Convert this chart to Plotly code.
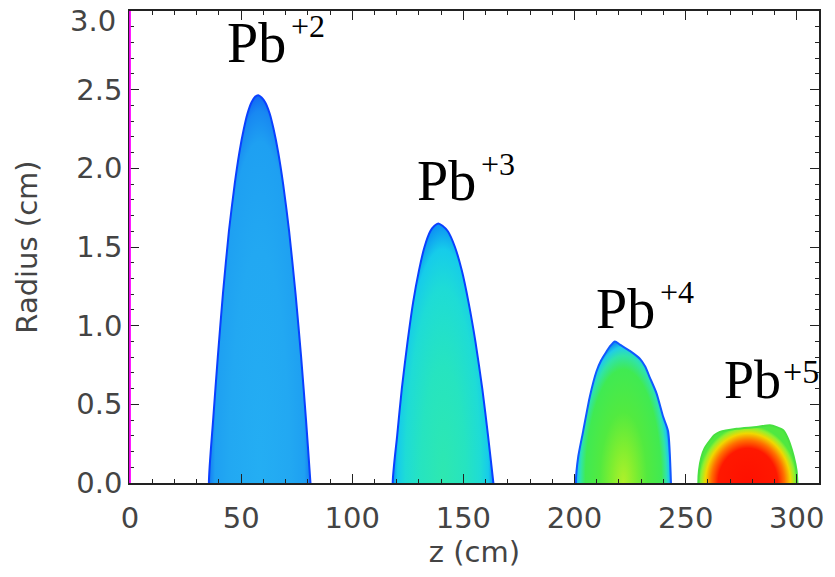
import plotly.graph_objects as go

# ---- data (z in cm, radius in cm) ----
z_pb2 = [35.5, 37.4, 39.5, 41.8, 44.5, 47.1, 49.2, 51.2, 52.9, 54.7, 56.3, 57.7,
         59.2, 60.8, 62.8, 64.6, 66.7, 68.9, 71.6, 74.5, 77.0, 79.2, 81.2]
r_pb2 = [0.00, 0.40, 0.80, 1.20, 1.60, 1.90, 2.10, 2.25, 2.35, 2.42, 2.455, 2.465,
         2.45, 2.42, 2.35, 2.25, 2.10, 1.90, 1.60, 1.20, 0.80, 0.40, 0.00]

z_pb3 = [118.2, 120.2, 122.3, 124.9, 127.4, 130.0, 132.5, 135.1, 137.0, 138.7,
         140.6, 143.0, 146.2, 149.3, 152.3, 155.4, 158.5, 161.1, 163.5]
r_pb3 = [0.00, 0.30, 0.60, 0.90, 1.15, 1.35, 1.50, 1.60, 1.635, 1.65,
         1.635, 1.60, 1.50, 1.35, 1.15, 0.90, 0.60, 0.30, 0.00]

z_pb4 = [200.6, 201.7, 203.9, 206.9, 209.9, 212.0, 213.7, 216.0, 218.2, 220.4, 224.9,
         229.4, 231.8, 233.9, 236.9, 239.9, 242.1, 243.4]
r_pb4 = [0.00, 0.17, 0.33, 0.55, 0.71, 0.78, 0.82, 0.87, 0.90, 0.88, 0.84,
         0.79, 0.74, 0.67, 0.57, 0.42, 0.33, 0.00]

z_pb5 = [255.7, 256.0, 257.1, 258.5, 260.9, 263.0, 265.4, 272.9, 281.9, 287.9, 291.0,
         293.9, 295.8, 296.9, 298.6, 299.9, 300.3]
r_pb5 = [0.00, 0.08, 0.165, 0.22, 0.27, 0.305, 0.325, 0.345, 0.356, 0.367, 0.355,
         0.335, 0.29, 0.25, 0.17, 0.08, 0.00]

species = ["+2", "+3", "+4", "+5"]
x_ticks = [0, 50, 100, 150, 200, 250, 300]
y_ticks = [0.0, 0.5, 1.0, 1.5, 2.0, 2.5, 3.0]

# ---- styles ----
scale_pb2 = [[0.0, "#24aef3"], [0.6, "#22a8f2"], [0.88, "#1ea0f2"], [0.96, "#1888f2"], [1.0, "#1068f4"]]
scale_pb3 = [[0.0, "#2ee8b0"], [0.45, "#26e4c0"], [0.75, "#1edcd6"], [0.9, "#16ccea"], [1.0, "#0c90f4"]]
scale_pb4 = [[0.0, "#b0f02a"], [0.25, "#80ee30"], [0.5, "#52ea40"], [0.8, "#40ea52"],
             [0.9, "#30e4a8"], [0.96, "#20cce8"], [1.0, "#1090f0"]]
scale_pb5 = [[0.0, "#ff1000"], [0.6, "#ff1800"], [0.74, "#ff7000"], [0.86, "#f0d800"],
             [0.95, "#90f030"], [1.0, "#50e840"]]

blobs = [
    (z_pb2, r_pb2, scale_pb2, "#0a40ff"),
    (z_pb3, r_pb3, scale_pb3, "#0a40ff"),
    (z_pb4, r_pb4, scale_pb4, "#1058ff"),
    (z_pb5, r_pb5, scale_pb5, "#48e040"),
]

fig = go.Figure()
for (zs, rs, cs, edge), sp in zip(blobs, species):
    # closed outline, mirrored about the axis (r -> -r) so the gradient centre sits on r = 0
    xx = list(zs) + list(reversed(zs))
    yy = list(rs) + [-v for v in reversed(rs)]
    fig.add_trace(go.Scatter(
        x=xx, y=yy, mode="lines", fill="toself",
        line=dict(color=edge, width=2, shape="spline", smoothing=0.6),
        fillgradient=dict(type="radial", colorscale=cs),
        hoverinfo="skip", showlegend=False, name="Pb" + sp,
    ))

# page body has an 8px margin: the figure is sized/offset so the plot area lands
# at x 130..819, y 10.7..482.7 in the window
OFF = 8
L, R, T, B = 130 - OFF, 16, 11 - OFF, 94
W, H = 835 - OFF, 577 - OFF
PL, PT, PW, PH = 130, 11, 689, 472

def px(xp):
    return (xp - PL) / PW

def py(yp):
    return (PT + PH - yp) / PH

label_pos = [  # (P left, box top, size) , (sup left, box top, size) in window pixels
    ((227, 12, 56), (291, 8, 32)),
    ((417, 150, 56), (481, 146, 32)),
    ((596, 278, 56), (660, 274, 32)),
    ((724, 350, 54), (783, 353, 34)),
]
axis_font = dict(family="DejaVu Sans", size=29, color="#444444")

annotations = []
for sp, (main, sup) in zip(species, label_pos):
    for txt, (xl, yt, fs) in (("Pb", main), (sp, sup)):
        annotations.append(dict(text=txt, x=px(xl), y=py(yt), xref="paper", yref="paper",
                                xanchor="left", yanchor="top", showarrow=False,
                                borderpad=0, borderwidth=0,
                                font=dict(family="Liberation Serif", size=fs, color="#000000")))
# the top y label sits a little below its tick in the reference
annotations.append(dict(text="%.1f" % y_ticks[-1], x=px(116), y=py(21), xref="paper", yref="paper",
                        xanchor="right", yanchor="middle", showarrow=False,
                        borderpad=0, borderwidth=0, font=axis_font))

common = dict(
    showgrid=False, zeroline=False, showline=True, linecolor="#222222", linewidth=1.5,
    mirror="allticks", ticks="inside", ticklen=9, tickwidth=1.2, tickcolor="#222222",
    tickfont=axis_font, ticklabeloverflow="allow",
)

fig.update_layout(
    width=W, height=H,
    margin=dict(l=L, r=R, t=T, b=B, autoexpand=False),
    paper_bgcolor="white", plot_bgcolor="white",
    xaxis=dict(range=[0, 310], tickvals=x_ticks, ticktext=[str(v) for v in x_ticks],
               minor=dict(dtick=10, ticks="inside", ticklen=4, tickwidth=1, tickcolor="#222222"),
               ticklabelstandoff=8,
               title=dict(text="z (cm)", font=axis_font, standoff=8),
               **common),
    yaxis=dict(range=[0, 3], tickvals=y_ticks,
               ticktext=["%.1f" % v for v in y_ticks[:-1]] + [""],
               minor=dict(dtick=0.1, ticks="inside", ticklen=4, tickwidth=1, tickcolor="#222222"),
               title=dict(text="Radius (cm)", font=axis_font, standoff=30),
               **common),
    annotations=annotations,
    shapes=[dict(type="line", xref="paper", yref="paper", x0=0, x1=0, y0=0, y1=1,
                 line=dict(color="#ff00ff", width=1.8), layer="above")],
)

fig.write_html("out.html")
